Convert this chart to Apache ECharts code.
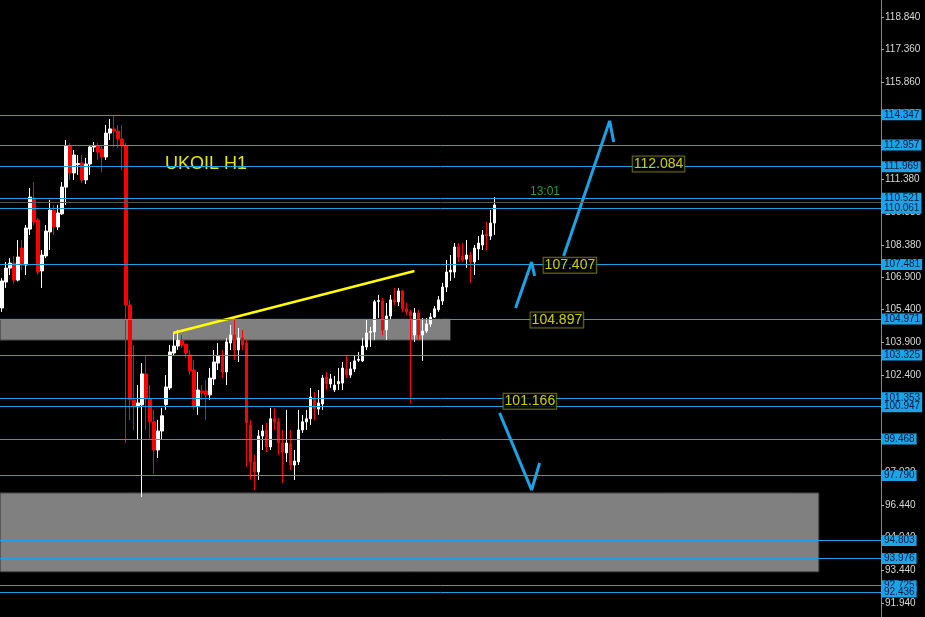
<!DOCTYPE html>
<html><head><meta charset="utf-8">
<script src="https://cdn.jsdelivr.net/npm/echarts@6/dist/echarts.min.js"></script>
<style>html,body{margin:0;background:#000}#c{width:925px;height:617px}</style>
</head><body><div id="c"></div>
<script>
// [open, close, low, high]
const candles = [
[105.48,106.72,105.3,106.85],[106.67,107.31,106.4,107.59],[107.31,107.54,106.99,107.77],[107.54,106.76,106.6,107.86],
[106.76,107.82,106.7,108.6],[108.23,107.45,107.22,108.6],[107.45,109.15,106.99,109.29],[109.1,110.57,108.83,110.99],
[110.53,109.43,109.29,111.26],[109.52,107.13,107.0,109.61],[107.18,107.91,106.4,108.14],[107.87,109.01,107.77,109.29],
[108.97,109.97,108.14,110.44],[109.97,109.2,108.83,110.21],[109.2,109.84,109.06,110.21],[109.8,111.03,109.75,111.26],
[111.03,112.92,110.21,113.19],[112.92,111.68,111.36,113.05],[111.68,112.5,111.36,112.73],[112.06,112.11,111.59,112.5],
[112.14,111.36,111.22,112.5],[111.36,112.09,111.17,112.37],[112.09,112.87,111.59,112.96],[112.87,112.92,112.64,113.1],
[112.92,112.64,112.27,113.05],[112.78,112.41,111.7,112.96],[112.41,113.51,112.27,113.88],[113.51,113.7,113.19,114.16],
[113.7,113.6,112.87,114.34],[113.6,113.24,112.82,113.88],[113.24,112.92,111.82,113.88],[112.92,105.62,99.28,113.05],
[105.62,101.26,100.34,105.85],[101.26,100.94,99.88,103.78],[100.94,101.12,99.42,101.94],[101.03,102.45,96.8,102.95],
[102.45,101.3,99.88,103.32],[101.3,100.25,99.42,101.94],[100.25,98.96,97.86,100.8],[98.96,99.83,98.59,100.34],
[99.83,100.53,99.42,100.89],[101.05,101.85,100.8,102.4],[101.81,103.46,101.71,103.78],[103.41,103.73,103.32,104.33],
[103.73,104.0,103.55,104.47],[104.0,103.78,103.64,104.24],[103.82,103.41,103.18,103.78],[103.32,102.59,102.4,103.55],
[102.63,100.98,100.8,103.09],[100.98,101.71,100.57,102.54],[101.67,101.6,101.26,101.94],[101.67,101.49,100.34,102.17],
[101.49,102.26,101.26,102.72],[102.22,103.0,101.94,103.55],[102.95,103.27,102.63,103.87],[103.23,102.54,102.27,103.55],
[102.54,103.92,101.94,104.1],[103.87,104.24,103.55,104.7],[104.24,103.55,103.09,105.02],[103.55,104.1,103.0,104.56],
[104.1,103.78,103.55,104.47],[103.87,100.2,98.18,104.01],[100.11,98.41,97.6,100.34],[98.41,97.95,97.12,98.73],
[97.95,99.6,97.58,99.88],[99.6,99.83,98.96,100.11],[99.88,99.1,98.87,100.2],[99.1,100.39,98.96,100.89],
[100.39,100.25,99.88,100.89],[100.25,99.28,98.73,100.43],[99.28,98.87,97.44,99.88],[98.83,99.28,98.41,100.8],
[99.24,98.27,98.04,99.88],[98.27,98.45,97.58,98.96],[98.41,99.88,98.27,100.8],[99.88,100.25,99.74,100.57],
[100.25,100.39,99.88,100.8],[100.39,101.39,100.11,101.81],[101.35,100.84,100.34,101.62],[100.84,101.12,100.57,101.71],
[101.07,102.26,100.8,102.4],[102.31,101.99,101.71,102.54],[101.99,102.22,101.81,102.45],[101.72,101.94,101.62,102.36],
[102.0,102.1,101.71,102.72],[102.03,102.72,101.71,103.0],[102.68,102.4,102.27,103.32],[102.4,102.68,102.27,103.0],
[102.68,103.05,102.54,103.32],[103.08,103.12,103.0,103.46],[103.05,103.73,103.0,104.1],[103.69,104.33,103.55,104.93],
[104.36,104.4,103.69,104.61],[104.38,105.76,104.01,105.85],[105.78,105.82,105.02,106.08],[105.8,104.47,104.24,105.94],
[104.47,105.11,104.01,105.71],[105.11,105.85,104.93,106.08],[105.85,105.76,105.62,106.4],[105.76,106.26,105.57,106.4],
[106.26,105.44,105.3,106.31],[105.44,105.3,105.16,105.71],[105.3,105.12,101.1,105.39],[104.24,105.25,103.92,105.48],
[105.25,104.24,104.01,105.39],[104.24,104.42,103.05,105.02],[104.42,104.74,104.33,105.02],[104.74,105.06,104.61,105.25],
[105.06,105.44,105.02,105.57],[105.4,105.85,105.3,106.03],[105.8,106.44,105.62,106.63],[106.44,107.13,106.21,107.68],
[107.13,107.22,106.72,107.91],[107.13,108.28,106.86,108.46],[108.28,107.82,107.59,108.46],[107.86,107.68,107.59,108.46],
[107.72,107.91,107.32,108.6],[107.91,107.59,106.63,108.05],[107.59,108.23,106.99,108.37],[108.19,108.46,107.68,108.78],
[108.37,108.83,108.14,109.06],[108.88,108.8,108.14,109.43],[108.78,109.38,108.6,109.98],[109.38,110.21,108.83,110.57]
];
const slots = 220;
const categories = Array.from({length: slots}, (_, i) => String(i));
const priceLevels = [114.347,112.957,111.969,110.521,110.061,107.481,104.971,103.325,101.353,100.947,99.468,97.790,94.803,93.976,92.725,92.436];
const tickLabels = [118.84,117.36,115.86,114.38,112.88,111.38,109.88,108.38,106.9,105.4,103.9,102.4,100.92,99.42,97.92,96.44,94.94,93.44,91.94];
const zones = [[0,112.5,104.97,104.0],[0,204.5,96.99,93.36]];
const trendLine = [[43.25,104.33],[103.5,107.18]];
const arrows = [
 [[140.75,107.87],[152.25,114.07],[153.25,113.1]],
 [[128.75,105.48],[132.75,107.59],[133.5,106.95]],
 [[124.75,100.66],[132.75,97.12],[134.75,98.36]]
];
const targets = [[158,112.09,'112.084'],[135.75,107.44,'107.407'],[132.5,104.93,'104.897'],[125.75,101.2,'101.166']];

const YMIN = 91.29, YMAX = 119.62;
const BLUE = '#1ba3e6';
const chart = echarts.init(document.getElementById('c'));
const series = [{
  type:'candlestick', xAxisIndex:0, data:candles.map(c=>[c[0],c[1],c[2],c[3]]), barWidth:3,
  itemStyle:{color:'#ffffff',color0:'#ff0000',borderColor:'#ffffff',borderColor0:'#ff0000',borderWidth:1}
},{
  type:'line', xAxisIndex:1, data:[], silent:true,
  markArea:{silent:true, itemStyle:{color:'#808080',borderColor:'#303030',borderWidth:1},
    data: zones.map(z=>[{xAxis:z[0],yAxis:z[2]},{xAxis:z[1],yAxis:z[3]}])},
  markLine:{silent:true, symbol:'none', animation:false, precision:3,
    lineStyle:{color:BLUE,width:1,type:'solid'},
    label:{show:true,position:'end',distance:1,color:'#0a1a40',backgroundColor:BLUE,fontSize:10,
      fontFamily:'Liberation Sans',padding:[1,2,0,2],formatter:p=>Number(p.value).toFixed(3)},
    data: priceLevels.map(v=>({yAxis:v}))
      .concat([{yAxis:110.33,lineStyle:{color:'#555',width:1},label:{show:false}}])}
},{
  type:'line', xAxisIndex:1, data:trendLine, symbol:'none', lineStyle:{color:'#ffff00',width:2.5}, z:4
}];
arrows.forEach(a=>series.push({type:'line',xAxisIndex:1,data:a,symbol:'none',lineStyle:{color:BLUE,width:3},z:4}));
series.push({
  type:'scatter', xAxisIndex:1, symbolSize:0, z:6,
  data: targets.map(t=>({value:[t[0],t[1]],label:{formatter:t[2]}})),
  label:{show:true,position:'right',distance:0,color:'#ffff00',fontSize:14,fontFamily:'Liberation Sans',
    backgroundColor:'#000',borderColor:'#8a8a10',borderWidth:1,padding:[1,1,0,1]}
});
chart.setOption({
  backgroundColor:'#000', animation:false,
  grid:{left:0,right:44,top:0,bottom:0,containLabel:false,outerBoundsMode:'none'},
  xAxis:[{type:'category',data:categories,show:false,boundaryGap:true},
         {type:'value',min:0,max:220,show:false}],
  yAxis:{type:'value',position:'right',min:YMIN,max:YMAX,
    axisLine:{show:true,onZero:false,lineStyle:{color:'#888'}},
    axisTick:{show:true,length:3,lineStyle:{color:'#aaa'},customValues:tickLabels},
    axisLabel:{color:'#d8d8d8',fontSize:10,fontFamily:'Liberation Sans',margin:4,customValues:tickLabels,formatter:v=>v.toFixed(3)},
    splitLine:{show:false}},
  graphic:[
    {type:'text',left:165,top:155,style:{text:'UKOIL H1',fill:'#e6e600',font:'18px Liberation Sans'}},
    {type:'text',left:530,top:186,style:{text:'13:01',fill:'#2e9a3e',font:'12px Liberation Sans'}}
  ],
  series
});
</script></body></html>
